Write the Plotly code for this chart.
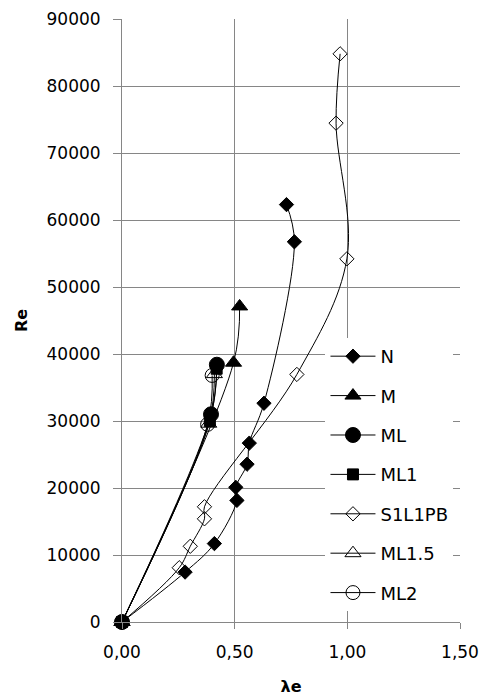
import plotly.graph_objects as go

# Data
n_x = [0.0, 0.28, 0.41, 0.51, 0.505, 0.555, 0.565, 0.63, 0.765, 0.73]
n_y = [0, 7450, 11700, 18150, 20100, 23550, 26700, 32650, 56750, 62300]

m_x = [0.0, 0.495, 0.522]
m_y = [0, 38700, 47100]

ml_x = [0.0, 0.395, 0.421]
ml_y = [0, 31000, 38400]

ml1_x = [0.0, 0.39, 0.42]
ml1_y = [0, 30000, 37800]

s_x = [0.0, 0.254, 0.303, 0.366, 0.366, 0.776, 0.998, 0.950, 0.968]
s_y = [0, 8100, 11300, 15400, 17200, 36950, 54200, 74450, 84800]

ml15_x = [0.0, 0.385, 0.41]
ml15_y = [0, 29600, 37000]

ml2_x = [0.0, 0.38, 0.40]
ml2_y = [0, 29500, 36800]

series = [
    ("N", n_x, n_y, "diamond", 11, "black"),
    ("M", m_x, m_y, "triangle-up", 14, "black"),
    ("ML", ml_x, ml_y, "circle", 15, "black"),
    ("ML1", ml1_x, ml1_y, "square", 11, "black"),
    ("S1L1PB", s_x, s_y, "diamond-open", 11, "black"),
    ("ML1.5", ml15_x, ml15_y, "triangle-up-open", 14, "black"),
    ("ML2", ml2_x, ml2_y, "circle-open", 14, "black"),
]

fig = go.Figure()
for i, (name, xs, ys, sym, sz, col) in enumerate(series):
    fig.add_trace(go.Scatter(
        x=xs, y=ys, name=name, mode="lines+markers",
        line=dict(color="black", width=1, shape="spline", smoothing=1.0),
        marker=dict(symbol=sym, size=sz, color=col,
                    line=dict(color="black", width=1)),
        cliponaxis=False, legendgroup="g%d" % i,
    ))

axis_font = dict(family="DejaVu Sans", size=17, color="black")
title_font = dict(family="DejaVu Sans", size=16, color="black")
fig.update_layout(
    width=487, height=700,
    margin=dict(l=114, r=35, t=11, b=86, autoexpand=False),
    paper_bgcolor="white", plot_bgcolor="white",
    separators=",.",
    showlegend=True,
    legend=dict(
        x=0.602, y=0.471, xanchor="left", yanchor="top",
        bgcolor="white", borderwidth=0,
        font=dict(family="DejaVu Sans", size=18, color="black"),
        tracegroupgap=13, itemwidth=45,
    ),
    xaxis=dict(
        range=[0, 1.5], dtick=0.5, tick0=0, tickformat=".2f",
        showgrid=True, gridcolor="#868686", gridwidth=1,
        showline=True, linecolor="#868686", linewidth=1,
        ticks="outside", ticklen=6, tickcolor="#868686",
        zeroline=False, tickfont=axis_font, automargin=False,
        ticklabelstandoff=9, ticklabeloverflow="allow",
        title=dict(text="<b>λe</b>", font=title_font, standoff=19),
    ),
    yaxis=dict(
        range=[0, 90000], dtick=10000, tick0=0, tickformat="d",
        showgrid=True, gridcolor="#868686", gridwidth=1,
        showline=True, linecolor="#868686", linewidth=1,
        ticks="outside", ticklen=8, tickcolor="#868686",
        zeroline=False, tickfont=axis_font, automargin=False,
        ticklabelstandoff=9, ticklabeloverflow="allow",
        title=dict(text="<b>Re</b>", font=title_font, standoff=14),
    ),
)

fig.write_html("out.html")
